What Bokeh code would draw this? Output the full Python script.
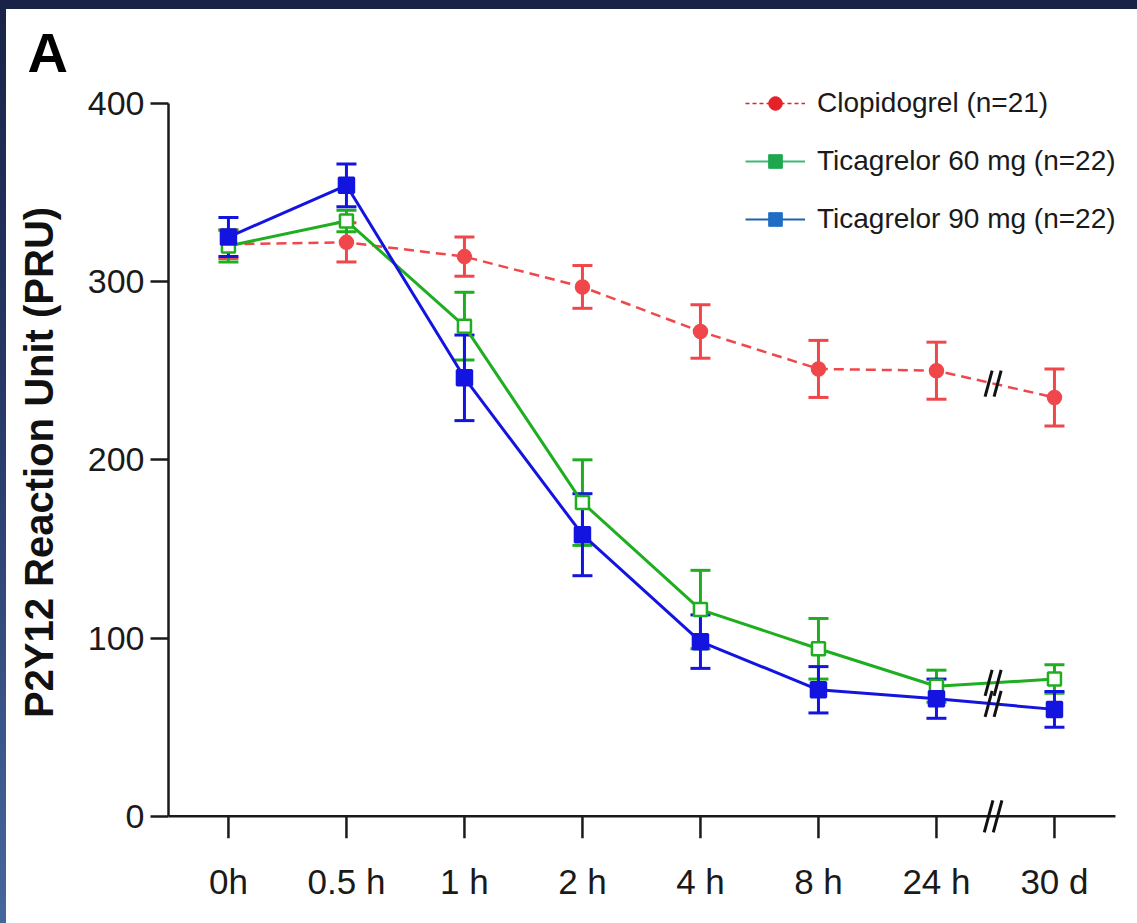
import math
from bokeh.plotting import figure
from bokeh.models import (ColumnDataSource, Whisker, TeeHead, Legend, LegendItem,
                          FixedTicker, Range1d)
from bokeh.layouts import column
from bokeh.embed import file_html
from bokeh.resources import INLINE

# ---------------- data ----------------
time_labels = ["0h", "0.5 h", "1 h", "2 h", "4 h", "8 h", "24 h", "30 d"]
clopidogrel = [321, 322, 314, 297, 272, 251, 250, 235]
clopidogrel_err = [8, 11, 11, 12, 15, 16, 16, 16]
ticagrelor60 = [320, 334, 275, 176, 116, 94, 73, 77]
ticagrelor60_err = [9, 6, 19, 24, 22, 17, 9, 8]
ticagrelor90 = [325, 354, 246, 158, 98, 71, 66, 60]
ticagrelor90_err = [11, 12, 24, 23, 15, 13, 11, 10]
y_ticks = [0, 100, 200, 300, 400]
legend_labels = ["Clopidogrel (n=21)", "Ticagrelor 60 mg (n=22)", "Ticagrelor 90 mg (n=22)"]

FONT = "Liberation Sans"
AXC = "#1a1a1a"
xs = list(range(len(time_labels)))

X0, X1 = -0.508, 7.602
AXIS_END = 7.517
Y0, Y1 = -13, 410
FIG_W, FIG_H = 1131, 914
BL, BR, BT, BB = 162, 12, 76, 84

p = figure(width=FIG_W, height=FIG_H,
           x_range=Range1d(X0, X1), y_range=Range1d(Y0, Y1),
           output_backend="svg", toolbar_location=None,
           min_border_left=BL, min_border_right=BR,
           min_border_top=BT, min_border_bottom=BB)
p.margin = (9, 0, 0, 6)
p.styles = {"background-color": "white"}
p.background_fill_color = "white"
p.border_fill_color = "white"
p.outline_line_color = None
p.xgrid.visible = False
p.ygrid.visible = False

# panel letter as title
p.title.text = "A"
p.title.text_font = FONT
p.title.text_font_style = "bold"
p.title.text_font_size = "56px"
p.title.text_color = "#000000"
p.title.align = "left"
p.title.offset = -141
p.title.standoff = 4

# px -> data unit factors
ux = (X1 - X0) / (FIG_W - BL - BR)
uy = (Y1 - Y0) / (FIG_H - BT - BB)

# y axis
ya = p.yaxis[0]
ya.bounds = (0, 400)
ya.ticker = FixedTicker(ticks=y_ticks)
ya.axis_line_width = 2.5
ya.axis_line_color = AXC
ya.major_tick_line_width = 2.5
ya.major_tick_line_color = AXC
ya.major_tick_in = 0
ya.major_tick_out = 18
ya.minor_tick_in = 0
ya.minor_tick_out = 0
ya.major_label_text_font = FONT
ya.major_label_text_font_size = "34px"
ya.major_label_text_color = AXC
ya.major_label_standoff = 6
ya.axis_label = "P2Y12 Reaction Unit (PRU)"
ya.axis_label_text_font = FONT
ya.axis_label_text_font_style = "bold"
ya.axis_label_text_font_size = "40px"
ya.axis_label_text_color = "#111111"
ya.axis_label_standoff = 24

# x axis: labels from the axis model, line and ticks drawn at y = 0
xa = p.xaxis[0]
xa.ticker = FixedTicker(ticks=xs)
xa.major_label_overrides = {i: t for i, t in enumerate(time_labels)}
xa.axis_line_color = None
xa.major_tick_line_color = None
xa.major_tick_in = 0
xa.major_tick_out = 0
xa.minor_tick_in = 0
xa.minor_tick_out = 0
xa.major_label_text_font = FONT
xa.major_label_text_font_size = "35px"
xa.major_label_text_color = AXC
xa.major_label_standoff = 22

p.segment([X0], [0], [AXIS_END], [0], line_color=AXC, line_width=2.5)
p.segment(xs, [0] * len(xs), xs, [-22 * uy] * len(xs), line_color=AXC, line_width=2.5)

# series
series = [
    (clopidogrel, clopidogrel_err, "#f0474b", "circle", 13, "#f0474b", "10 6", 2.5),
    (ticagrelor60, ticagrelor60_err, "#1fae1f", "square", 13, "white", "solid", 3),
    (ticagrelor90, ticagrelor90_err, "#1414e0", "square", 15, "#1414e0", "solid", 3),
]
for vals, errs, col, mk, sz, fill, dash, lw in series:
    src = ColumnDataSource(dict(x=xs, y=vals,
                                lo=[v - e for v, e in zip(vals, errs)],
                                hi=[v + e for v, e in zip(vals, errs)]))
    w = Whisker(source=src, base="x", lower="lo", upper="hi",
                line_color=col, line_width=3,
                lower_head=TeeHead(size=20, line_color=col, line_width=3),
                upper_head=TeeHead(size=20, line_color=col, line_width=3))
    p.add_layout(w)
    p.line("x", "y", source=src, line_color=col, line_width=lw, line_dash=dash)
    p.scatter("x", "y", source=src, marker=mk, size=sz, fill_color=fill,
              line_color=col, line_width=2.5)

# break marks ("//") between 24 h and 30 d, on each line and on the x axis
brk_x = (xs[-2] + xs[-1]) / 2 - 0.02
centers = [(vals[-2] + (vals[-1] - vals[-2]) * 0.48, 13) for vals in
           (clopidogrel, ticagrelor60, ticagrelor90)] + [(0, 16)]
bx0, by0, bx1, by1 = [], [], [], []
for yc, half in centers:
    for off in (-4.5, 4.5):
        cx = brk_x + off * ux
        bx0.append(cx - 0.27 * half * ux)
        by0.append(yc - half * uy)
        bx1.append(cx + 0.27 * half * ux)
        by1.append(yc + half * uy)
p.segment(bx0, by0, bx1, by1, line_color="#111111", line_width=3)

# legend (styled icons)
nan = dict(x=[math.nan], y=[math.nan])
leg_specs = [
    ("#e8202a", "#e8202a", "circle", 12, "4 3", 1.5),
    ("#3cb878", "#1da84f", "square", 12, "solid", 2),
    ("#2060a8", "#1f6ec4", "square", 12, "solid", 2),
]
items = []
for lab, (lc, mc, mk, sz, dash, lw) in zip(legend_labels, leg_specs):
    r1 = p.line("x", "y", source=ColumnDataSource(nan), line_color=lc,
                line_width=lw, line_dash=dash)
    r2 = p.scatter("x", "y", source=ColumnDataSource(nan), marker=mk, size=sz,
                   fill_color=mc, line_color=mc)
    items.append(LegendItem(label=lab, renderers=[r1, r2]))

legend = Legend(items=items, location=(577, 603), orientation="vertical",
                glyph_width=60, glyph_height=34, label_height=34,
                label_standoff=12, spacing=24, padding=0, margin=0,
                border_line_color=None, background_fill_alpha=0,
                label_text_font=FONT, label_text_font_size="28px",
                label_text_color="#1a1a1a")
p.add_layout(legend)

layout = column(p, styles={"background": "linear-gradient(180deg, #192347 0%, #2a3d6c 50%, #46679d 100%)"})
open("out.html", "w").write(file_html(layout, INLINE))
